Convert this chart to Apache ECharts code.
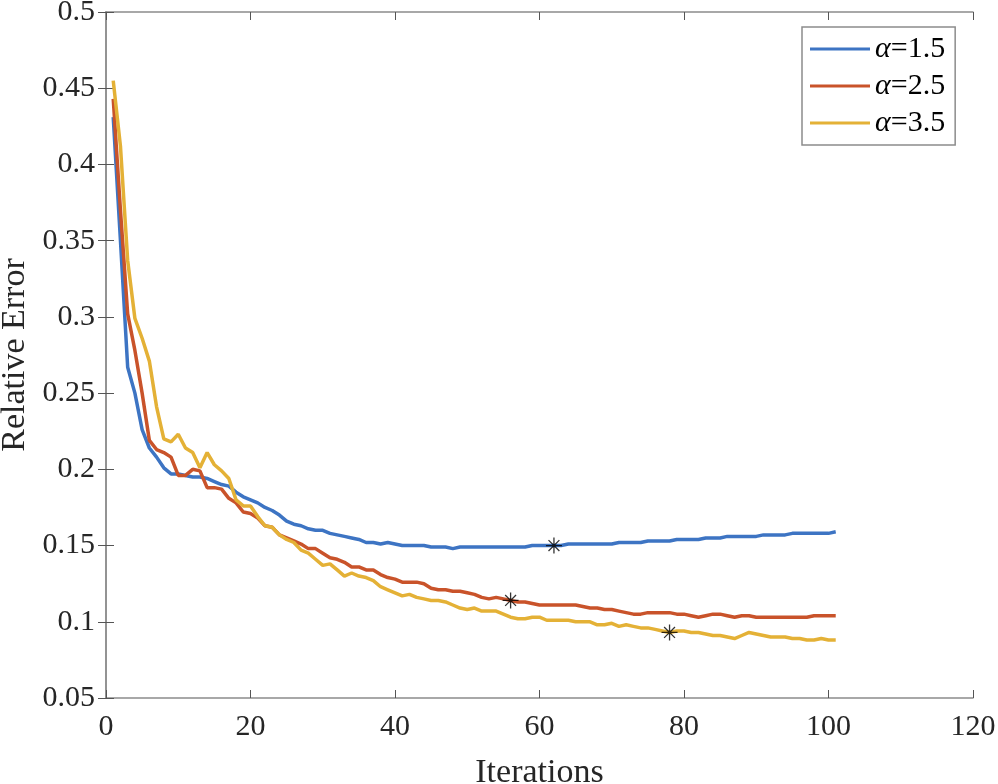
<!DOCTYPE html>
<html lang="en">
<head>
    <meta charset="UTF-8">
    <title>Relative Error</title>
    <script src="https://cdn.jsdelivr.net/npm/echarts@6/dist/echarts.min.js"></script>
    <style>
        html, body { margin: 0; padding: 0; background: #fff; }
    </style>
</head>
<body>
    <div id="main" style="width: 998px;height:784px;"></div>
    <script type="text/javascript">
        // data, iteration 1..101
        var seriesNames = ['α=1.5', 'α=2.5', 'α=3.5'];
        var colors = ['#3d74c3', '#c9532a', '#e4b136'];
        var xTicks = [0, 20, 40, 60, 80, 100, 120];
        var yTicks = [0.05, 0.1, 0.15, 0.2, 0.25, 0.3, 0.35, 0.4, 0.45, 0.5];

        var alpha15 = [
            0.431, 0.350, 0.267, 0.250, 0.226, 0.214, 0.208, 0.201, 0.197, 0.197,
            0.196, 0.195, 0.195, 0.194, 0.192, 0.190, 0.189, 0.185, 0.182, 0.180,
            0.178, 0.175, 0.173, 0.170, 0.166, 0.164, 0.163, 0.161, 0.160, 0.160,
            0.158, 0.157, 0.156, 0.155, 0.154, 0.152, 0.152, 0.151, 0.152, 0.151,
            0.150, 0.150, 0.150, 0.150, 0.149, 0.149, 0.149, 0.148, 0.149, 0.149,
            0.149, 0.149, 0.149, 0.149, 0.149, 0.149, 0.149, 0.149, 0.150, 0.150,
            0.150, 0.150, 0.150, 0.151, 0.151, 0.151, 0.151, 0.151, 0.151, 0.151,
            0.152, 0.152, 0.152, 0.152, 0.153, 0.153, 0.153, 0.153, 0.154, 0.154,
            0.154, 0.154, 0.155, 0.155, 0.155, 0.156, 0.156, 0.156, 0.156, 0.156,
            0.157, 0.157, 0.157, 0.157, 0.158, 0.158, 0.158, 0.158, 0.158, 0.158,
            0.159
        ];
        var alpha25 = [
            0.443, 0.370, 0.302, 0.278, 0.250, 0.219, 0.213, 0.211, 0.208, 0.196,
            0.196, 0.200, 0.199, 0.188, 0.188, 0.187, 0.181, 0.178, 0.172, 0.171,
            0.168, 0.163, 0.162, 0.157, 0.155, 0.153, 0.151, 0.148, 0.148, 0.145,
            0.142, 0.141, 0.139, 0.136, 0.136, 0.134, 0.134, 0.131, 0.129, 0.128,
            0.126, 0.126, 0.126, 0.125, 0.122, 0.121, 0.121, 0.120, 0.120, 0.119,
            0.118, 0.116, 0.115, 0.116, 0.115, 0.114, 0.113, 0.113, 0.112, 0.111,
            0.111, 0.111, 0.111, 0.111, 0.111, 0.110, 0.109, 0.109, 0.108, 0.108,
            0.107, 0.106, 0.105, 0.105, 0.106, 0.106, 0.106, 0.106, 0.105, 0.105,
            0.104, 0.103, 0.104, 0.105, 0.105, 0.104, 0.103, 0.104, 0.104, 0.103,
            0.103, 0.103, 0.103, 0.103, 0.103, 0.103, 0.103, 0.104, 0.104, 0.104,
            0.104
        ];
        var alpha35 = [
            0.455, 0.412, 0.337, 0.299, 0.286, 0.271, 0.241, 0.220, 0.218, 0.223,
            0.214, 0.211, 0.201, 0.211, 0.203, 0.199, 0.194, 0.180, 0.176, 0.176,
            0.169, 0.163, 0.162, 0.157, 0.154, 0.152, 0.147, 0.145, 0.141, 0.137,
            0.138, 0.134, 0.130, 0.132, 0.130, 0.129, 0.127, 0.123, 0.121, 0.119,
            0.117, 0.118, 0.116, 0.115, 0.114, 0.114, 0.113, 0.111, 0.109, 0.108,
            0.109, 0.107, 0.107, 0.107, 0.105, 0.103, 0.102, 0.102, 0.103, 0.103,
            0.101, 0.101, 0.101, 0.101, 0.100, 0.100, 0.100, 0.098, 0.098, 0.099,
            0.097, 0.098, 0.097, 0.096, 0.096, 0.095, 0.094, 0.093, 0.094, 0.094,
            0.093, 0.093, 0.092, 0.091, 0.091, 0.090, 0.089, 0.091, 0.093, 0.092,
            0.091, 0.090, 0.090, 0.090, 0.089, 0.089, 0.088, 0.088, 0.089, 0.088,
            0.088
        ];
        // iteration where each curve is marked with an asterisk
        var markIters = [62, 56, 78];

        var allValues = [alpha15, alpha25, alpha35];
        var iterations = [];
        for (var i = 1; i <= alpha15.length; i++) iterations.push(i);

        var myChart = echarts.init(document.getElementById('main'));

        var serif = "'Liberation Serif', 'Times New Roman', serif";
        var axisGray = '#8c8c8c';
        var textDark = '#262626';

        function pairs(vals) {
            return vals.map(function (v, k) { return [iterations[k], v]; });
        }

        var series = allValues.map(function (vals, k) {
            return {
                name: seriesNames[k],
                type: 'line',
                data: pairs(vals),
                showSymbol: false,
                symbol: 'none',
                lineStyle: { width: 3.5, color: colors[k] },
                itemStyle: { color: colors[k] },
                z: 2
            };
        });

        series.push({
            name: 'marks',
            type: 'scatter',
            data: markIters.map(function (it, k) { return [it, allValues[k][it - 1]]; }),
            symbol: 'path://M5,0L5,10M0,5L10,5M1.6,1.6L8.4,8.4M8.4,1.6L1.6,8.4',
            symbolSize: 16,
            itemStyle: { color: 'none', borderColor: '#000', borderWidth: 1.3 },
            z: 5
        });

        var tickStyle = { inside: true, length: 8, lineStyle: { color: '#555', width: 1 } };
        var lineStyle = { lineStyle: { color: axisGray, width: 1.5 } };

        var option = {
            animation: false,
            backgroundColor: '#fff',
            grid: { left: 106, right: 25, top: 12, bottom: 86, outerBoundsMode: 'none', containLabel: false },
            legend: {
                data: seriesNames,
                orient: 'vertical',
                left: 802,
                top: 27,
                padding: [7, 10, 7, 8],
                itemGap: 7,
                itemWidth: 60,
                itemHeight: 3,
                icon: 'rect',
                backgroundColor: '#fff',
                borderColor: axisGray,
                borderWidth: 1.5,
                borderRadius: 0,
                formatter: function (name) { return '{a|α}' + name.slice(1); },
                textStyle: {
                    fontFamily: serif, fontSize: 30, color: '#000', lineHeight: 28,
                    rich: { a: { fontFamily: serif, fontSize: 30, fontStyle: 'italic', color: '#000', lineHeight: 28 } }
                }
            },
            xAxis: [{
                type: 'value',
                min: xTicks[0], max: xTicks[xTicks.length - 1], interval: 20,
                name: 'Iterations',
                nameLocation: 'middle',
                nameGap: 58,
                nameTextStyle: { fontFamily: serif, fontSize: 34, color: textDark },
                axisLine: lineStyle,
                axisTick: tickStyle,
                splitLine: { show: false },
                axisLabel: { fontFamily: serif, fontSize: 30, color: textDark, margin: 14 }
            }, {
                type: 'value',
                position: 'top',
                min: xTicks[0], max: xTicks[xTicks.length - 1], interval: 20,
                axisLine: lineStyle,
                axisTick: tickStyle,
                splitLine: { show: false },
                axisLabel: { show: false }
            }],
            yAxis: [{
                type: 'value',
                min: yTicks[0], max: yTicks[yTicks.length - 1], interval: 0.05,
                name: 'Relative Error',
                nameLocation: 'middle',
                nameGap: 72,
                nameTextStyle: { fontFamily: serif, fontSize: 34, color: textDark },
                axisLine: lineStyle,
                axisTick: tickStyle,
                splitLine: { show: false },
                axisLabel: {
                    fontFamily: serif, fontSize: 30, color: textDark, margin: 11,
                    formatter: function (v) { return String(+v.toFixed(2)); }
                }
            }, {
                type: 'value',
                position: 'right',
                min: yTicks[0], max: yTicks[yTicks.length - 1], interval: 0.05,
                axisLine: lineStyle,
                axisTick: tickStyle,
                splitLine: { show: false },
                axisLabel: { show: false }
            }],
            series: series
        };

        myChart.setOption(option);
    </script>
</body>
</html>
